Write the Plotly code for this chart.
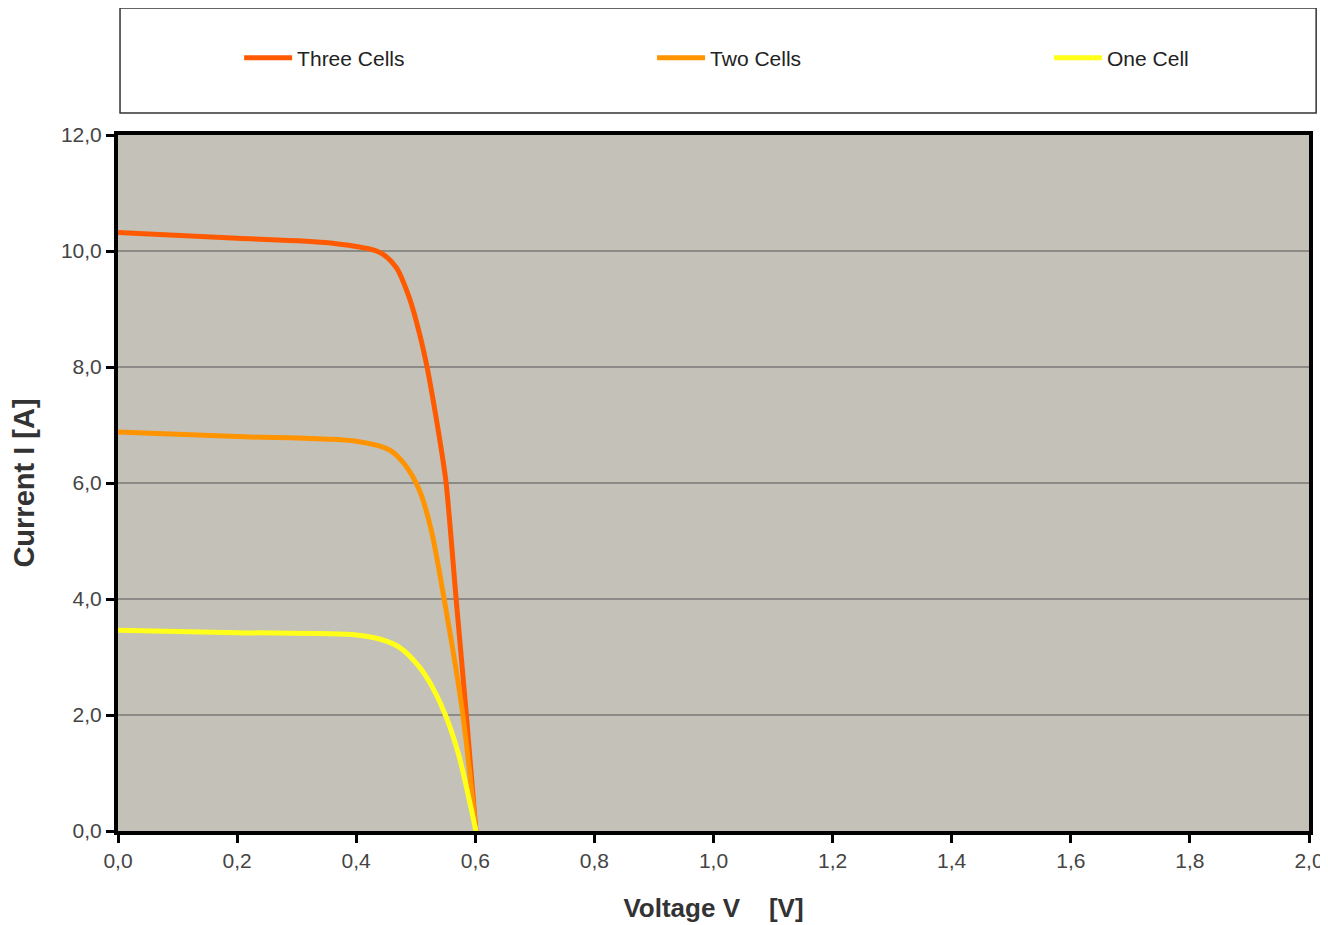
import plotly.graph_objects as go

# Data
v_three = [0.0, 0.2, 0.355, 0.439, 0.467, 0.489, 0.506, 0.519, 0.534, 0.543, 0.551, 0.568, 0.585, 0.601]
i_three = [10.32, 10.22, 10.14, 9.98, 9.72, 9.2, 8.59, 8.0, 7.14, 6.57, 6.0, 3.98, 2.0, 0.0]

v_two = [0.0, 0.2, 0.4, 0.456, 0.48, 0.506, 0.526, 0.548, 0.578, 0.601]
i_two = [6.88, 6.8, 6.72, 6.57, 6.34, 5.88, 5.19, 3.98, 2.09, 0.0]

v_one = [0.0, 0.2, 0.4, 0.439, 0.472, 0.506, 0.528, 0.551, 0.573, 0.601]
i_one = [3.46, 3.42, 3.38, 3.31, 3.17, 2.83, 2.48, 1.97, 1.28, 0.0]

series_names = ["Three Cells", "Two Cells", "One Cell"]
series_colors = ["#ff5a00", "#ff9400", "#ffff1a"]

x_ticks = [0.0, 0.2, 0.4, 0.6, 0.8, 1.0, 1.2, 1.4, 1.6, 1.8, 2.0]
y_ticks = [0.0, 2.0, 4.0, 6.0, 8.0, 10.0, 12.0]

legend_ids = ["legend", "legend2", "legend3"]
legend_x = [0.1017, 0.4484, 0.7817]

fig = go.Figure()
for name, color, xs, ys, lg in zip(series_names, series_colors,
                                   [v_three, v_two, v_one], [i_three, i_two, i_one], legend_ids):
    fig.add_trace(go.Scatter(x=xs, y=ys, name=name, mode="lines", legend=lg,
                             line=dict(color=color, width=5, shape="spline", smoothing=0.8)))

legend_common = dict(orientation="h", xanchor="left", y=1.1106, yanchor="middle",
                     font=dict(size=21, color="#222222"), bgcolor="rgba(0,0,0,0)",
                     itemwidth=48)

fig.update_layout(
    width=1328, height=925,
    margin=dict(l=110, r=24, t=127, b=102),
    paper_bgcolor="white",
    plot_bgcolor="#c4c1b9",
    separators=",.",
    font=dict(family="Liberation Sans, Arial, sans-serif", color="#333333"),
    showlegend=True,
    legend=dict(x=legend_x[0], **legend_common),
    legend2=dict(x=legend_x[1], **legend_common),
    legend3=dict(x=legend_x[2], **legend_common),
    shapes=[dict(type="rect", xref="paper", yref="paper",
                 x0=0.0017, x1=1.006, y0=1.0316, y1=1.1825,
                 line=dict(color="#333333", width=1.5), fillcolor="rgba(0,0,0,0)")],
)

fig.update_xaxes(range=[0, 2.0], tickvals=x_ticks, tickformat=".1f",
                 showgrid=False, zeroline=False,
                 showline=True, linecolor="black", linewidth=4, mirror=True,
                 ticks="outside", ticklen=8, tickwidth=3, tickcolor="black",
                 tickfont=dict(size=21, color="#444444"),
                 title=dict(text="<b>Voltage V&nbsp;&nbsp;&nbsp; [V]</b>",
                            font=dict(size=26, color="#333333"), standoff=29))
fig.update_yaxes(range=[0, 12.0], tickvals=y_ticks, tickformat=".1f",
                 showgrid=True, gridcolor="#8c8a86", gridwidth=2, zeroline=False,
                 showline=True, linecolor="black", linewidth=4, mirror=True,
                 ticks="outside", ticklen=8, tickwidth=3, tickcolor="black",
                 tickfont=dict(size=21, color="#444444"),
                 title=dict(text="<b>Current I [A]</b>",
                            font=dict(size=29, color="#333333"), standoff=20))

fig.write_html("out.html")
